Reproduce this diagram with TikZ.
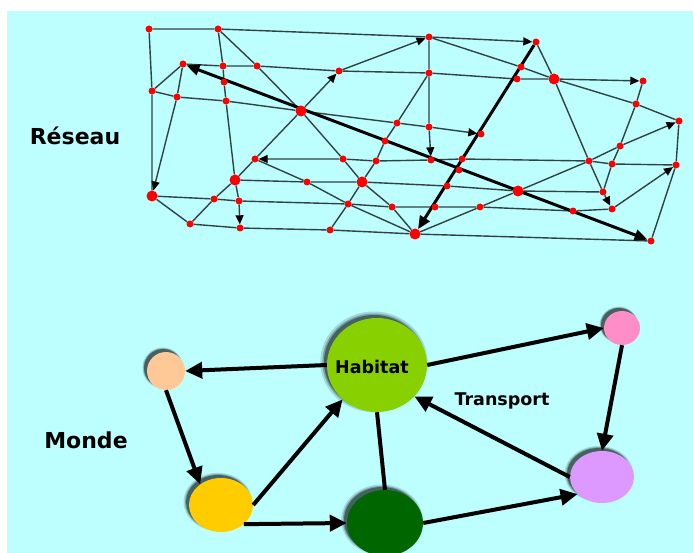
\documentclass[tikz,border=0pt]{standalone}
\usepackage{fontspec}
\setmainfont{DejaVu Sans}
\usetikzlibrary{arrows.meta,shapes.geometric,backgrounds,shadows}
\definecolor{sky}{RGB}{189,255,255}
\definecolor{wiregray}{RGB}{50,66,66}
\definecolor{peach}{RGB}{255,200,150}
\definecolor{lime}{RGB}{136,208,0}
\definecolor{gold}{RGB}{255,204,0}
\definecolor{forest}{RGB}{0,102,0}
\definecolor{rose}{RGB}{255,142,200}
\definecolor{lilac}{RGB}{221,153,255}
\tikzset{
  dot/.style={circle, fill=red, inner sep=0pt, minimum size=7pt},
  bigdot/.style={dot, minimum size=11pt},
  wire/.style={draw=wiregray, line width=1.4pt},
  wireto/.style={wire, -{Triangle[length=9pt, width=8pt, color=black]}},
  trunk/.style={line width=3pt, {Triangle[length=13pt, width=11pt]}-{Triangle[length=13pt, width=11pt]}},
  trunkto/.style={line width=3pt, -{Triangle[length=13pt, width=11pt]}},
  blob/.style={ellipse, inner sep=0pt,
    general shadow={shadow scale=1.07, shadow xshift=-3pt, shadow yshift=3pt, fill=black, opacity=0.15},
    general shadow={shadow scale=1.03, shadow xshift=-3pt, shadow yshift=3pt, fill=black, opacity=0.25},
    general shadow={shadow xshift=-3pt, shadow yshift=3pt, fill=black, opacity=0.4}},
  flow/.style={line width=4pt, -{Triangle[length=17pt, width=16pt]}},
  tag/.style={font=\fontsize{22}{26}\selectfont\bfseries},
  word/.style={font=\fontsize{17.5}{21}\selectfont\bfseries}
}
\begin{document}
\begin{tikzpicture}[x=1pt, y=-1pt]
         \useasboundingbox (0, 0) rectangle (693, 553);
         \node[tag] (reseau) at (75, 136) {Réseau};
         \node[tag] (monde) at (86, 440) {Monde};
         \node[dot] (r01) at (149, 29) {};
         \node[dot] (r02) at (218, 29) {};
         \node[dot] (r03) at (429, 37) {};
         \node[dot] (r04) at (536, 42) {};
         \node[dot] (r05) at (183, 64) {};
         \node[dot] (r06) at (223, 66) {};
         \node[dot] (r07) at (257, 66) {};
         \node[dot] (r08) at (339, 71) {};
         \node[dot] (r09) at (429, 73) {};
         \node[dot] (r10) at (521, 67) {};
         \node[dot] (r11) at (517, 79) {};
         \node[bigdot] (r12) at (554, 79) {};
         \node[dot] (r13) at (643, 81) {};
         \node[dot] (r14) at (224, 82) {};
         \node[dot] (r15) at (152, 91) {};
         \node[dot] (r16) at (177, 97) {};
         \node[dot] (r17) at (226, 101) {};
         \node[bigdot] (r18) at (301, 111) {};
         \node[dot] (r19) at (397, 123) {};
         \node[dot] (r20) at (429, 127) {};
         \node[dot] (r21) at (481, 134) {};
         \node[dot] (r22) at (636, 104) {};
         \node[dot] (r23) at (679, 121) {};
         \node[dot] (r24) at (385, 141) {};
         \node[dot] (r25) at (620, 146) {};
         \node[dot] (r26) at (255, 159) {};
         \node[dot] (r27) at (343, 159) {};
         \node[dot] (r28) at (376, 161) {};
         \node[dot] (r29) at (431, 160) {};
         \node[dot] (r30) at (462, 159) {};
         \node[dot] (r31) at (459, 170) {};
         \node[dot] (r32) at (589, 161) {};
         \node[dot] (r33) at (612, 164) {};
         \node[dot] (r34) at (676, 165) {};
         \node[bigdot] (r35) at (235, 180) {};
         \node[dot] (r36) at (307, 182) {};
         \node[bigdot] (r37) at (362, 182) {};
         \node[dot] (r38) at (447, 186) {};
         \node[bigdot] (r39) at (518, 191) {};
         \node[dot] (r40) at (603, 192) {};
         \node[bigdot] (r41) at (152, 196) {};
         \node[dot] (r42) at (214, 199) {};
         \node[dot] (r43) at (239, 201) {};
         \node[dot] (r44) at (348, 204) {};
         \node[dot] (r45) at (392, 207) {};
         \node[dot] (r46) at (435, 207) {};
         \node[dot] (r47) at (480, 207) {};
         \node[dot] (r48) at (573, 211) {};
         \node[dot] (r49) at (612, 209) {};
         \node[dot] (r50) at (190, 224) {};
         \node[dot] (r51) at (240, 228) {};
         \node[dot] (r52) at (330, 230) {};
         \node[bigdot] (r53) at (415, 234) {};
         \node[dot] (r54) at (651, 241) {};
         \begin{pgfonlayer}{background}
         \fill[white] (0, 0) rectangle (693, 553);
         \fill[sky] (7, 11) rectangle (693, 553);
         \draw [wireto] (r01) -- (r02) -- (r03) -- (r04);
         \draw [wireto] (r05) -- (r06) -- (r07) -- (r08) -- (r09) -- (r11) -- (r12) -- (r13);
         \draw [wireto] (r15) -- (r16) -- (r17) -- (r18) -- (r19) -- (r20) -- (r21);
         \draw [wireto] (r02) -- (r06) -- (r14) -- (r17) -- (r35) -- (r43) -- (r51);
         \draw [wire] (r02) -- (r07) -- (r18) -- (r27) -- (r37) -- (r45) -- (r53);
         \draw [wireto] (r50) -- (r42) -- (r35) -- (r26) -- (r18) -- (r08);
         \draw [wireto] (r34) -- (r33) -- (r32) -- (r30) -- (r29) -- (r28) -- (r27) -- (r26);
         \draw [wire] (r53) -- (r44) -- (r36) -- (r26);
         \draw [wire] (r35) -- (r36) -- (r37) -- (r38) -- (r39) -- (r40);
         \draw [wire] (r41) -- (r42) -- (r43) -- (r44) -- (r45) -- (r46) -- (r47) -- (r48) -- (r49);
         \draw [wire] (r41) -- (r50) -- (r51) -- (r52) -- (r53) -- (r54);
         \draw [wireto] (r03) -- (r09) -- (r20) -- (r29);
         \draw [wire] (r09) -- (r19) -- (r24) -- (r28) -- (r37) -- (r44) -- (r52);
         \draw [wireto] (r08) -- (r03);
         \draw [wire] (r03) -- (r10) -- (r12) -- (r22) -- (r23);
         \draw [wireto] (r04) -- (r12) -- (r32) -- (r40) -- (r49);
         \draw [wire] (r13) -- (r22) -- (r25) -- (r33) -- (r40);
         \draw [wire] (r23) -- (r34) -- (r54);
         \draw [wireto] (r49) -- (r34);
         \draw [wireto] (r53) -- (r47) -- (r39) -- (r32) -- (r25) -- (r23);
         \draw [wire] (r05) -- (r15);
         \draw [wire] (r01) -- (r15) -- (r41);
         \draw [wireto] (r05) -- (r16) -- (r41);
         \draw [trunk] (r05) -- (r54);
         \draw [trunkto] (r04) -- (r53);
         \end{pgfonlayer}
         \node[blob, fill=peach, minimum width=38pt, minimum height=38pt] (P) at (166, 371) {};
         \node[blob, fill=lime, minimum width=100pt, minimum height=94pt] (H) at (377, 365) {};
         \node[word] (habitat) at (372, 367) {Habitat};
         \node[blob, fill=gold, minimum width=64pt, minimum height=54pt] (Y) at (221, 505) {};
         \node[blob, fill=forest, minimum width=76pt, minimum height=66pt] (G) at (385, 523) {};
         \node[blob, fill=rose, minimum width=36pt, minimum height=34pt] (K) at (622, 328) {};
         \node[blob, fill=lilac, minimum width=64pt, minimum height=52pt] (V) at (602, 477) {};
         \node[word] (transport) at (502, 401) {Transport};
         \draw [flow] (H.west) -- (P.east);
         \draw [flow] (P.south) -- (Y.135);
         \draw [flow] (Y.east) -- (H.-135);
         \draw [flow] (Y.-40) -- (G.west);
         \draw [line width=4pt] (H.south) -- (G.north);
         \draw [flow] (H.east) -- (K.west);
         \draw [flow] (K.south) -- (V.north);
         \draw [flow] (V.west) -- (H.-40);
         \draw [flow] (G.east) -- (V.-145);
\end{tikzpicture}
\end{document}
